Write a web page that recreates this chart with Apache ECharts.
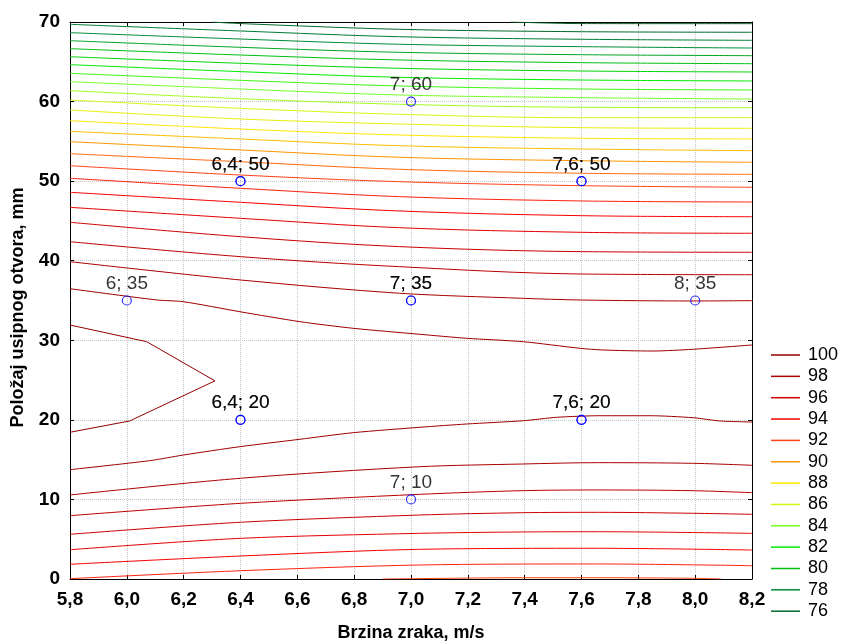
<!DOCTYPE html>
<html><head><meta charset="utf-8">
<script src="https://cdn.jsdelivr.net/npm/echarts@6/dist/echarts.min.js"></script>
<style>html,body{margin:0;padding:0;background:#fff}#c{width:842px;height:641px}</style>
</head><body><div id="c"></div>
<script>
// ---- data ----
const xTickLabels = ['5,8','6,0','6,2','6,4','6,6','6,8','7,0','7,2','7,4','7,6','7,8','8,0','8,2'];
const yTickLabels = ['0','10','20','30','40','50','60','70'];
const legendLevels = ['100','98','96','94','92','90','88','86','84','82','80','78','76'];

// x positions where the upper contour lines were read
const upperX = [5.8, 6.4, 6.96, 7.6, 8.2];
const upperLevels = [97, 96, 95, 94, 93, 92, 91, 90, 89, 88, 87, 86, 85, 84, 83, 82, 81, 80, 79, 78, 77];
const upperY = [
  [42.39, 40.51, 39.25, 38.33, 38.24],
  [44.83, 43.02, 41.77, 41.14, 41.06],
  [46.71, 45.33, 44.15, 43.57, 43.45],
  [48.60, 47.34, 46.25, 45.66, 45.53],
  [50.36, 49.10, 48.05, 47.51, 47.38],
  [51.94, 50.77, 49.93, 49.43, 49.23],
  [53.45, 52.44, 51.49, 50.99, 50.86],
  [54.96, 53.92, 53.00, 52.57, 52.37],
  [56.26, 55.30, 54.45, 54.04, 53.83],
  [57.60, 56.55, 55.80, 55.39, 55.30],
  [58.94, 57.81, 57.18, 56.72, 56.64],
  [60.19, 59.15, 58.40, 57.97, 57.98],
  [61.37, 60.36, 59.66, 59.28, 59.23],
  [62.50, 61.58, 60.83, 60.49, 60.32],
  [63.55, 62.67, 61.96, 61.58, 61.46],
  [64.64, 63.76, 63.05, 62.71, 62.59],
  [65.64, 64.81, 64.18, 63.84, 63.72],
  [66.65, 65.85, 65.23, 64.89, 64.76],
  [67.65, 66.82, 66.19, 65.89, 65.77],
  [68.66, 67.86, 67.20, 66.90, 66.73],
  [69.71, 68.87, 68.15, 67.83, 67.70]
];

// closed 100 contour (ridge on the left)
const c100 = [[5.8,31.92],[6.07,29.82],[6.31,24.9],[6.01,19.86],[5.8,18.44]];
// level 99 above the ridge
const c99top = [[5.8,36.48],[6.105,35.07],[6.199,34.85],[6.398,33.59],[6.609,32.34],[6.796,31.51],[7.032,30.75],[7.196,30.25],[7.395,29.82],[7.595,28.99],[7.675,28.78],[7.851,28.65],[7.992,28.87],[8.2,29.41]];
// level 98 above the ridge
const c98top = [[5.8,39.88],[6.4,37.58],[6.96,35.91],[7.39,35.28],[7.6,35.06],[7.99,34.94],[8.2,34.98]];
// partial lines at the top edge
const c76 = [[6.30,70],[6.4,69.8],[6.96,69.08],[7.6,68.78],[8.2,68.71]];
const c75 = [[7.35,70],[7.6,69.8],[8.2,69.79]];

// lines below the ridge, levels 99 .. 92
const c99low = [[5.8,13.74],[6.08,14.87],[6.199,15.58],[6.398,16.63],[6.609,17.56],[6.797,18.39],[7.032,19.07],[7.196,19.48],[7.395,19.89],[7.513,20.32],[7.665,20.52],[7.841,20.52],[7.993,20.27],[8.087,19.86],[8.2,19.73]];
const lowX = [5.8, 6.4, 7.03, 7.39, 7.66, 7.99, 8.2];
const c98low = [10.56, 12.66, 14.11, 14.45, 14.62, 14.54, 14.29];
const c97low = [7.96, 9.51, 10.64, 11.10, 11.19, 11.10, 10.85];
const c96low = [5.62, 7.13, 8.04, 8.33, 8.38, 8.26, 8.13];
const c95low = [[5.8,3.68],[6.4,5.11],[7.03,5.74],[7.39,5.91],[7.66,5.94],[8.2,5.74]];
const c94low = [[5.8,1.85],[6.4,2.89],[7.03,3.73],[7.66,3.86],[8.2,3.64]];
const c93low = [[5.8,0.04],[6.4,1.04],[7.03,1.76],[7.66,1.89],[8.2,1.67]];
const c92low = [[6.9,0.0],[6.96,0.02],[7.39,0.16],[7.66,0.16],[7.99,0.09],[8.09,0.0]];

// design points
const pointX = [6.0, 6.4, 6.4, 7.0, 7.6, 7.6, 8.0, 7.0, 7.0, 6.4, 6.4, 7.6, 7.6, 7.0];
const pointY = [35, 50, 50, 60, 50, 50, 35, 35, 35, 20, 20, 20, 20, 10];
const pointLabel = ['6; 35','6,4; 50','6,4; 50','7; 60','7,6; 50','7,6; 50','8; 35','7; 35','7; 35','6,4; 20','6,4; 20','7,6; 20','7,6; 20','7; 10'];

// ---- styling ----
const pal = {
  100:[145,0,0], 98:[170,0,0], 96:[205,0,0], 94:[250,0,0], 92:[255,65,25], 90:[255,150,0],
  88:[255,230,0], 86:[205,250,20], 84:[120,255,40], 82:[0,235,0], 80:[0,190,20], 78:[0,140,55], 76:[0,105,45]
};
function colorOf(lv){
  let c;
  if (pal[lv]) c = pal[lv];
  else if (lv < 76) c = [0,90,40];
  else { const a = pal[lv-1], b = pal[lv+1]; c = [0,1,2].map(i => Math.round((a[i]+b[i])/2)); }
  return 'rgb(' + c.join(',') + ')';
}
const FONT = 'Liberation Sans, Arial, sans-serif';

const series = [];
function addLine(level, data, smooth){
  series.push({
    type: 'line', name: String(level), data: data, symbol: 'none', showSymbol: false,
    smooth: smooth, animation: false, z: 2,
    lineStyle: { color: colorOf(level), width: 1 },
    itemStyle: { color: colorOf(level) },
    emphasis: { disabled: true }
  });
}
addLine(100, c100, false);
addLine(99, c99top, 0.25);
addLine(98, c98top, 0.3);
upperLevels.forEach((lv, k) => addLine(lv, upperX.map((x, i) => [x, upperY[k][i]]), 0.35));
addLine(76, c76, 0.3);
addLine(75, c75, 0.3);
addLine(99, c99low, 0.25);
addLine(98, lowX.map((x, i) => [x, c98low[i]]), 0.3);
addLine(97, lowX.map((x, i) => [x, c97low[i]]), 0.3);
addLine(96, lowX.map((x, i) => [x, c96low[i]]), 0.3);
addLine(95, c95low, 0.3);
addLine(94, c94low, 0.3);
addLine(93, c93low, 0.3);
addLine(92, c92low, 0.3);

series.push({
  type: 'scatter', name: 'points', z: 5, animation: false,
  data: pointX.map((x, i) => [x, pointY[i]]),
  symbol: 'circle', symbolSize: 9,
  itemStyle: { color: 'rgba(255,255,255,0)', borderColor: '#0000ff', borderWidth: 1.2 },
  label: { show: true, position: 'top', distance: 2, color: '#000', fontSize: 19, fontFamily: FONT,
           formatter: p => pointLabel[p.dataIndex] },
  emphasis: { disabled: true }
});

const axisLineStyle = { color: '#000', width: 1 };
const option = {
  animation: false,
  backgroundColor: '#fff',
  grid: { left: 70, right: 90, top: 22, bottom: 62, containLabel: false, outerBoundsMode: 'none' },
  legend: {
    data: legendLevels, orient: 'vertical', left: 771, top: 346, padding: 0,
    icon: 'rect', itemWidth: 29, itemHeight: 1.5, itemGap: 3.35, selectedMode: false,
    textStyle: { fontSize: 18, lineHeight: 18, fontFamily: FONT, color: '#000', padding: [0,0,0,3] }
  },
  xAxis: [{
    type: 'value', min: 5.8, max: 8.2, interval: 0.2, position: 'bottom',
    axisLine: { show: true, onZero: false, lineStyle: axisLineStyle },
    axisTick: { show: true, inside: true, length: 4, lineStyle: axisLineStyle },
    axisLabel: { show: true, showMinLabel: true, showMaxLabel: true, hideOverlap: false, margin: 11,
      formatter: (v) => xTickLabels[Math.round((v - 5.8) / 0.2)],
      fontFamily: FONT, fontWeight: 'bold', fontSize: 19, color: '#000' },
    splitLine: { show: true, lineStyle: { color: '#c4c4c4', type: 'dotted', width: 1 } },
    name: 'Brzina zraka, m/s', nameLocation: 'middle', nameGap: 45,
    nameTextStyle: { fontFamily: FONT, fontWeight: 'bold', fontSize: 18, color: '#000' }
  }, {
    type: 'value', min: 5.8, max: 8.2, interval: 0.2, position: 'top',
    axisLine: { show: true, onZero: false, lineStyle: axisLineStyle },
    axisTick: { show: true, inside: true, length: 4, lineStyle: axisLineStyle },
    axisLabel: { show: false }, splitLine: { show: false }
  }],
  yAxis: [{
    type: 'value', min: 0, max: 70, interval: 10, position: 'left',
    axisLine: { show: true, onZero: false, lineStyle: axisLineStyle },
    axisTick: { show: true, inside: true, length: 4, lineStyle: axisLineStyle },
    axisLabel: { show: true, margin: 10, showMinLabel: true, showMaxLabel: true,
      formatter: (v) => yTickLabels[Math.round(v / 10)],
      fontFamily: FONT, fontWeight: 'bold', fontSize: 19, color: '#000' },
    splitLine: { show: true, lineStyle: { color: '#c4c4c4', type: 'dotted', width: 1 } },
    name: 'Položaj usipnog otvora, mm', nameLocation: 'middle', nameGap: 43,
    nameTextStyle: { fontFamily: FONT, fontWeight: 'bold', fontSize: 18, color: '#000', padding: [0, 14, 0, 0] }
  }, {
    type: 'value', min: 0, max: 70, interval: 10, position: 'right',
    axisLine: { show: true, onZero: false, lineStyle: axisLineStyle },
    axisTick: { show: true, inside: true, length: 4, lineStyle: axisLineStyle },
    axisLabel: { show: false }, splitLine: { show: false }
  }],
  series: series
};
const chart = echarts.init(document.getElementById('c'), null, { renderer: 'canvas' });
chart.setOption(option);
</script>
</body></html>
